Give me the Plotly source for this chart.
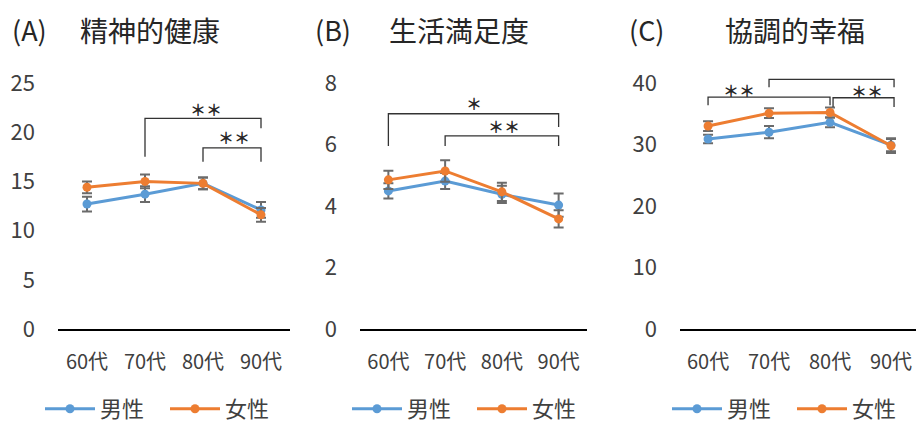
import plotly.graph_objects as go

ages = ["60代", "70代", "80代", "90代"]

# Panel A: 精神的健康
A_male = [12.7, 13.7, 14.8, 12.1]
A_male_err = [0.75, 0.8, 0.6, 0.8]
A_female = [14.4, 15.0, 14.8, 11.6]
A_female_err = [0.6, 0.7, 0.6, 0.7]

# Panel B: 生活満足度
B_male = [4.49, 4.81, 4.38, 4.03]
B_male_err = [0.25, 0.26, 0.28, 0.38]
B_female = [4.85, 5.14, 4.46, 3.58]
B_female_err = [0.3, 0.35, 0.3, 0.28]

# Panel C: 協調的幸福
C_male = [30.9, 32.0, 33.6, 29.9]
C_male_err = [0.7, 1.0, 0.8, 1.0]
C_female = [33.0, 35.1, 35.2, 29.8]
C_female_err = [0.8, 0.8, 0.8, 1.2]

A_ticks = [0, 5, 10, 15, 20, 25]
B_ticks = [0, 2, 4, 6, 8]
C_ticks = [0, 10, 20, 30, 40]

# significance brackets: (x0, x1, top, left_bottom, right_bottom)
A_brackets = [(1, 3, 21.4, 17.5, 20.4), (2, 3, 18.4, 17.0, 17.0)]
A_stars = [(2.05, 22.4, "＊＊"), (2.53, 19.5, "＊＊")]
B_brackets = [(0, 3, 7.0, 5.95, 6.57), (1, 3, 6.28, 5.95, 5.95)]
B_stars = [(1.5, 7.35, "＊"), (2.04, 6.6, "＊＊")]
C_brackets = [(0, 2, 37.7, 36.4, 36.4), (1, 3.05, 40.6, 39.3, 39.3), (2.05, 3.05, 37.6, 36.1, 36.1)]
C_stars = [(0.5, 38.9, "＊＊"), (2.0, 42.0, "＊＊"), (2.6, 38.7, "＊＊")]

panels = [
    dict(label="(A)", title="精神的健康", male=A_male, merr=A_male_err, female=A_female, ferr=A_female_err,
         ticks=A_ticks, yrange=[0, 25], brackets=A_brackets, stars=A_stars),
    dict(label="(B)", title="生活満足度", male=B_male, merr=B_male_err, female=B_female, ferr=B_female_err,
         ticks=B_ticks, yrange=[0, 8], brackets=B_brackets, stars=B_stars),
    dict(label="(C)", title="協調的幸福", male=C_male, merr=C_male_err, female=C_female, ferr=C_female_err,
         ticks=C_ticks, yrange=[0, 41], brackets=C_brackets, stars=C_stars),
]

W, H = 916, 425
FONT = "Noto Sans CJK JP"
BLUE = "#5B9BD5"
ORANGE = "#ED7D31"
ERR = "#6b6b6b"
TXT = "#404040"


def px_x(p):
    return p / W


def px_y(p):
    return 1 - p / H


# layout geometry (page pixels)
x_px = [(58, 290), (360, 587), (680, 916)]
x_ranges = [[-0.5, 3.5], [-0.5, 3.5], [-0.46, 3.41]]
y_zero_px = 329
y_top_px = [83, 83, 329 - 41 * 6.15]
label_x = [10, 313, 627]
title_x = [78, 387, 723]
legend_x = [40, 347, 667]

fig = go.Figure()
layout = dict(
    width=W, height=H, margin=dict(l=0, r=0, t=0, b=0, autoexpand=False),
    paper_bgcolor="white", plot_bgcolor="white",
    font=dict(family=FONT, color=TXT),
    annotations=[], shapes=[],
)

for i, p in enumerate(panels):
    n = "" if i == 0 else str(i + 1)
    xa, ya = "x" + n, "y" + n
    leg = "legend" + n
    for name, vals, err, col in [("男性", p["male"], p["merr"], BLUE), ("女性", p["female"], p["ferr"], ORANGE)]:
        fig.add_trace(go.Scatter(
            x=ages, y=vals, name=name, mode="lines+markers",
            line=dict(color=col, width=3), marker=dict(color=col, size=9),
            error_y=dict(type="data", array=err, color=ERR, thickness=2, width=5),
            xaxis=xa, yaxis=ya, legend=leg, cliponaxis=False,
        ))
    layout["xaxis" + n] = dict(
        domain=[px_x(x_px[i][0]), min(1.0, px_x(x_px[i][1]))], anchor=ya, range=x_ranges[i],
        showline=True, linecolor="#000000", linewidth=2, ticks="", showgrid=False,
        zeroline=False, tickfont=dict(size=20, color=TXT, family=FONT), ticklabelstandoff=14,
        fixedrange=True, automargin=False,
    )
    layout["yaxis" + n] = dict(
        domain=[px_y(y_zero_px), px_y(y_top_px[i])], anchor=xa, range=p["yrange"],
        tickvals=p["ticks"], showline=False, showgrid=False, zeroline=False, ticks="",
        tickfont=dict(size=22, color=TXT, family=FONT), ticklabelstandoff=22, fixedrange=True,
        automargin=False,
    )
    layout[leg] = dict(
        orientation="h", x=px_x(legend_x[i]), xanchor="left", y=px_y(409), yanchor="middle",
        font=dict(size=22, color=TXT, family=FONT), itemwidth=50, entrywidth=60,
        entrywidthmode="pixels", bgcolor="rgba(0,0,0,0)", itemclick=False, itemdoubleclick=False,
    )
    layout["annotations"].append(dict(
        text=p["label"], x=px_x(label_x[i]), y=px_y(30), xref="paper", yref="paper",
        xanchor="left", yanchor="middle", showarrow=False, font=dict(size=27, color="#262626")))
    layout["annotations"].append(dict(
        text=p["title"], x=px_x(title_x[i]), y=px_y(30), xref="paper", yref="paper",
        xanchor="left", yanchor="middle", showarrow=False, font=dict(size=28, color="#262626")))
    for (x0, x1, top, lb, rb) in p["brackets"]:
        path = f"M {x0},{lb} L {x0},{top} L {x1},{top} L {x1},{rb}"
        layout["shapes"].append(dict(type="path", xref=xa, yref=ya, path=path,
                                     line=dict(color="#333333", width=1.3)))
    for (sx, sy, st) in p["stars"]:
        layout["annotations"].append(dict(
            text="<b>" + st + "</b>", x=sx, y=sy, xref=xa, yref=ya, showarrow=False,
            font=dict(size=16, color="#262626"), xanchor="center", yanchor="middle"))

fig.update_layout(**layout)
fig.write_html(
    "out.html",
    config={"displayModeBar": False, "staticPlot": True},
    post_script="document.body.style.margin='0';document.body.style.overflow='hidden';",
)
